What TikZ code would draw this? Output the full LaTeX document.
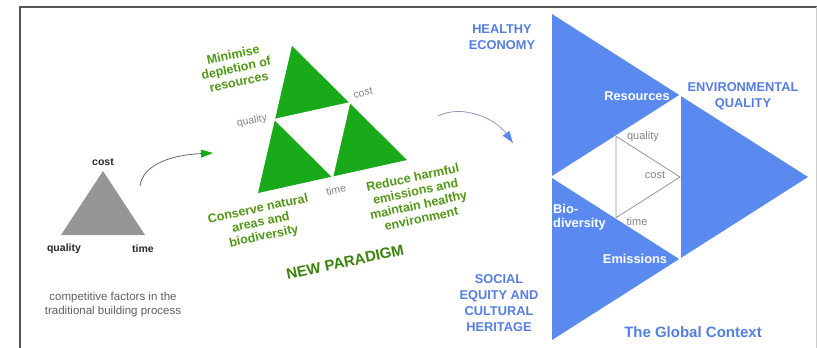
\documentclass[tikz,border=0pt]{standalone}
\usepackage{fontspec}
\setmainfont{Liberation Sans}
\usetikzlibrary{arrows.meta,calc}
\definecolor{trigreen}{RGB}{24,170,24}
\definecolor{txtgreen}{RGB}{80,150,20}
\definecolor{darkgreen}{RGB}{60,130,10}
\definecolor{triblue}{RGB}{90,138,240}
\definecolor{txtblue}{RGB}{85,125,225}
\definecolor{trigrey}{RGB}{150,150,150}
\definecolor{lblgrey}{RGB}{130,130,130}
\definecolor{capgrey}{RGB}{95,95,95}
\definecolor{darktxt}{RGB}{40,40,40}
\definecolor{framegrey}{RGB}{85,85,85}
\definecolor{arrowstroke}{RGB}{90,110,90}
\definecolor{bluestroke}{RGB}{140,150,190}
\tikzset{
  greenlbl/.style={font=\bfseries\fontsize{12.5}{14}\selectfont, text=txtgreen, align=center, rotate=12, inner sep=0pt},
  smallgrey/.style={font=\fontsize{10.5}{12}\selectfont, text=lblgrey, inner sep=0pt, rotate=12},
  bluelbl/.style={font=\bfseries\fontsize{12.8}{16}\selectfont, text=txtblue, align=center, inner sep=0pt},
  whitelbl/.style={font=\bfseries\fontsize{12.8}{14}\selectfont, text=white, inner sep=0pt},
  innergrey/.style={font=\fontsize{11}{12}\selectfont, text=lblgrey, inner sep=0pt},
  greylbl/.style={font=\bfseries\fontsize{10.5}{12}\selectfont, text=darktxt, inner sep=0pt},
  garrow/.style={draw=arrowstroke, line width=0.8pt, -{Triangle[length=12pt,width=8pt,fill=trigreen,color=trigreen]}},
  barrow/.style={draw=bluestroke, line width=0.8pt, -{Triangle[length=12pt,width=8pt,fill=triblue,color=triblue]}},
}
\begin{document}
\begin{tikzpicture}[x=1pt,y=-1pt]
\useasboundingbox (0,0) rectangle (817,348);
% frame
\draw[framegrey, line width=1.2pt] (20,348) -- (20,7) -- (817,7);
\draw[black!20, line width=0.8pt] (816,7) -- (816,348);

% grey triangle
\fill[trigrey] (103,171) -- (61,235) -- (145,235) -- cycle;
\node[greylbl] (gcost) at (103,162) {cost};
\node[greylbl] (gqual) at (64,249) {quality};
\node[greylbl] (gtime) at (143,249) {time};
\node[font=\fontsize{11.5}{14}\selectfont, text=capgrey, align=center, inner sep=0pt] (cap) at (113,305) {competitive factors in the\\traditional building process};

% green arrow
\coordinate (gs) at (140,186);
\coordinate (ge) at (213,153);
\draw[garrow] (gs) .. controls (143,164) and (172,155) .. (ge);

% green triangle
\coordinate (T) at (292,46);
\coordinate (L) at (258,193);
\coordinate (R) at (407,160);
\fill[trigreen] (T) -- (L) -- (R) -- cycle;
\filldraw[white, line width=1.5pt] ($(T)!0.5!(L)$) -- ($(T)!0.5!(R)$) -- ($(L)!0.5!(R)$) -- cycle;
\node[smallgrey] (nq) at (252,121) {quality};
\node[smallgrey] (nc) at (363,93) {cost};
\node[smallgrey] (nt) at (336,190) {time};
\node[greenlbl] (min) at (236,68) {Minimise\\depletion of\\resources};
\node[greenlbl] (con) at (261,223) {Conserve natural\\areas and\\biodiversity};
\node[greenlbl] (red) at (417,198) {Reduce harmful\\emissions and\\maintain healthy\\environment};
\node[greenlbl, font=\bfseries\fontsize{15}{17}\selectfont, text=darkgreen] (np) at (345,262) {NEW PARADIGM};

% blue arrow
\coordinate (bs) at (438,116);
\coordinate (be) at (513,143);
\draw[barrow] (bs) .. controls (462,104) and (495,118) .. (be);

% blue triangle
\coordinate (A) at (552,14);
\coordinate (B) at (552,340);
\coordinate (C) at (808,177);
\fill[triblue] (A) -- (B) -- (C) -- cycle;
\coordinate (mAC) at ($(A)!0.5!(C)$);
\coordinate (mBC) at ($(B)!0.5!(C)$);
\coordinate (mAB) at ($(A)!0.5!(B)$);
\filldraw[white, line width=1.5pt] (mAC) -- (mBC) -- (mAB) -- cycle;
\draw[trigrey, line width=0.8pt] ($(mAC)!0.5!(mAB)$) -- ($(mBC)!0.5!(mAB)$) -- ($(mAC)!0.5!(mBC)$) -- cycle;

\node[bluelbl] (he) at (502,37) {HEALTHY\\ECONOMY};
\node[bluelbl] (eq) at (743,96) {ENVIRONMENTAL\\QUALITY};
\node[bluelbl] (se) at (499,303) {SOCIAL\\EQUITY AND\\CULTURAL\\HERITAGE};
\node[bluelbl, font=\bfseries\fontsize{15}{17}\selectfont] (gc) at (693,332) {The Global Context};
\node[whitelbl] (res) at (637,96) {Resources};
\node[whitelbl, align=left, anchor=west] (bio) at (553,217) {Bio-\\diversity};
\node[whitelbl] (emi) at (635,259) {Emissions};
\node[innergrey] (iq) at (643,137) {quality};
\node[innergrey] (ic) at (655,175) {cost};
\node[innergrey] (it) at (637,222) {time};
\end{tikzpicture}
\end{document}
